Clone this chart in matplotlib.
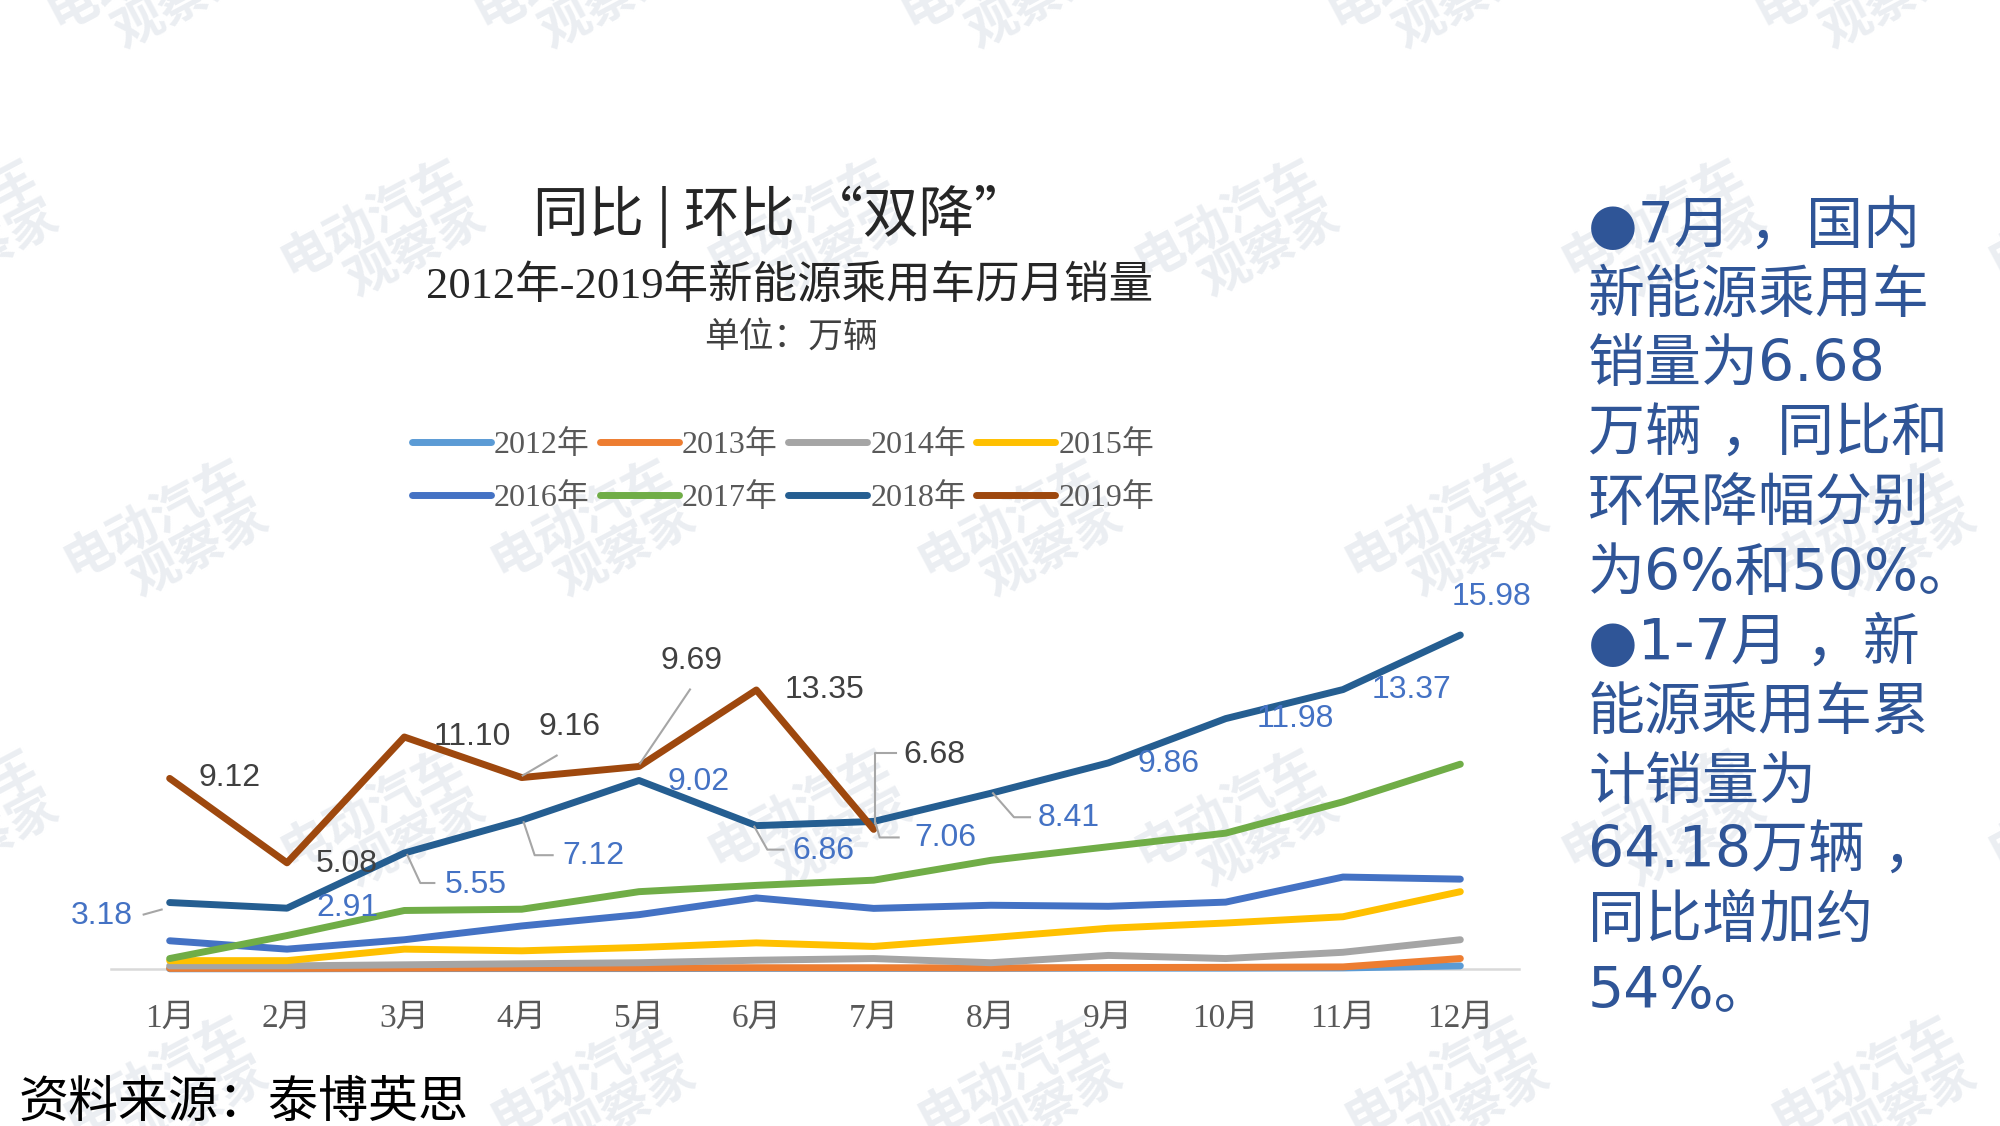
import matplotlib
matplotlib.use('Agg')
import matplotlib.pyplot as plt
import matplotlib.transforms as mtransforms
from matplotlib.lines import Line2D

plt.rcParams['font.family'] = ['Liberation Serif', 'Noto Sans CJK SC']

# ---- data (万辆) ----
months = ['1月', '2月', '3月', '4月', '5月', '6月', '7月', '8月', '9月', '10月', '11月', '12月']
years = ['2012年', '2013年', '2014年', '2015年', '2016年', '2017年', '2018年', '2019年']
colors = ['#5B9BD5', '#ED7D31', '#A5A5A5', '#FFC000', '#4472C4', '#70AD47', '#255E91', '#9E480E']

s2012 = [0.01, 0.01, 0.02, 0.02, 0.02, 0.03, 0.03, 0.03, 0.04, 0.04, 0.05, 0.15]
s2013 = [0.03, 0.03, 0.04, 0.05, 0.05, 0.06, 0.06, 0.05, 0.07, 0.08, 0.10, 0.50]
s2014 = [0.15, 0.15, 0.20, 0.25, 0.30, 0.42, 0.50, 0.30, 0.65, 0.50, 0.80, 1.40]
s2015 = [0.40, 0.40, 0.95, 0.87, 1.03, 1.25, 1.08, 1.50, 1.95, 2.20, 2.50, 3.70]
s2016 = [1.35, 0.95, 1.40, 2.06, 2.60, 3.40, 2.90, 3.05, 3.00, 3.20, 4.40, 4.30]
s2017 = [0.50, 1.60, 2.80, 2.86, 3.70, 4.00, 4.25, 5.20, 5.85, 6.50, 8.00, 9.80]
s2018 = [3.18, 2.91, 5.55, 7.12, 9.02, 6.86, 7.06, 8.41, 9.86, 11.98, 13.37, 15.98]
s2019 = [9.12, 5.08, 11.10, 9.16, 9.69, 13.35, 6.68]
series = [s2012, s2013, s2014, s2015, s2016, s2017, s2018, s2019]

# label offsets in pixels (dx, dy) and leader polylines
off2018 = [(-68, -13), (60, 0), (71, -32), (72, -36), (60, -2), (67, -25),
           (72, -17), (78, -25), (60, -1), (70, 0), (68, 0), (31, 38)]
lead2018 = {0: [(-26, -12), (-8, -7)],
            2: [(3, -2), (16, -30), (30, -30)],
            3: [(2, -2), (13, -35), (31, -35)],
            5: [(-2, -1), (11, -24), (27, -24)],
            6: [(2, -2), (6, -16), (25, -16)],
            7: [(2, 0), (23, -24), (39, -24)]}
off2019 = [(60, 0), (60, -1), (68, 0), (48, 51), (52, 105), (68, 0), (61, 74)]
lead2019 = {3: [(1, 2), (35, 22)],
            4: [(1, 3), (51, 77)],
            6: [(1, 6), (1, 76), (22, 76)]}

side_lines = ['●7月 ，国内', '新能源乘用车', '销量为6.68', '万辆 ，同比和', '环保降幅分别',
              '为6%和50%。', '●1-7月 ，新', '能源乘用车累', '计销量为', '64.18万辆 ，',
              '同比增加约', '54%。']

W, H = 2000, 1126
fig = plt.figure(figsize=(W / 100, H / 100), dpi=100)
fig.patch.set_facecolor('white')

# watermarks (behind everything)
wm_rows = [(-8, 150), (240, -44), (540, 166), (830, -44), (1097, 166)]
for wy, x0 in wm_rows:
    for k in range(6):
        wx = x0 + 427 * k
        if -150 < wx < W + 150:
            fig.text(wx / W, 1 - wy / H, '电动汽车\n观察家', rotation=28, ha='center', va='center',
                     multialignment='right', fontsize=36, fontweight='bold', color='#ebeef2',
                     family=['Noto Sans CJK SC'], linespacing=0.95, zorder=-5)

ax = fig.add_axes([111 / W, 1 - 969 / H, 1408 / W, 17 * 20.9 / H])
ax.patch.set_alpha(0)
x = list(range(12))
handles = []
for s, c, name in zip(series, colors, years):
    ln, = ax.plot(x[:len(s)], s, color=c, lw=5, solid_capstyle='round', solid_joinstyle='round',
                  clip_on=False, label=name, zorder=3)
    handles.append(ln)

ax.set_xlim(-0.5, 11.5)
ax.set_ylim(0, 17)
for sp in ['top', 'right', 'left']:
    ax.spines[sp].set_visible(False)
ax.spines['bottom'].set_color('#d9d9d9')
ax.spines['bottom'].set_linewidth(1.8)
ax.set_yticks([])
ax.set_xticks(x)
ax.set_xticklabels(months, fontsize=24, color='#595959')
ax.tick_params(axis='x', length=0, pad=25)

lab_font = ['Liberation Sans']


def leader(i, v, pts):
    px, py = ax.transData.transform((i, v))
    ax.add_line(Line2D([px + p[0] for p in pts], [py + p[1] for p in pts],
                       transform=mtransforms.IdentityTransform(), color='#a6a6a6',
                       lw=1.5, clip_on=False, zorder=4))


for i, v in enumerate(s2018):
    ax.annotate(f'{v:.2f}', xy=(i, v), xytext=off2018[i], textcoords='offset pixels',
                ha='center', va='center', fontsize=23, color='#4472C4', family=lab_font, zorder=5)
    if i in lead2018:
        leader(i, v, lead2018[i])
for i, v in enumerate(s2019):
    ax.annotate(f'{v:.2f}', xy=(i, v), xytext=off2019[i], textcoords='offset pixels',
                ha='center', va='center', fontsize=23, color='#404040', family=lab_font, zorder=5)
    if i in lead2019:
        leader(i, v, lead2019[i])

# titles
fig.text(781 / W, 1 - 217 / H, '同比 | 环比 “双降”', ha='center', va='center', fontsize=40,
         color='#262626', family=['Noto Sans CJK SC'])
fig.text(790 / W, 1 - 286 / H, '2012年-2019年新能源乘用车历月销量', ha='center', va='center',
         fontsize=32, color='#262626')
fig.text(791 / W, 1 - 338 / H, '单位：万辆', ha='center', va='center', fontsize=25, color='#404040')

order = [0, 4, 1, 5, 2, 6, 3, 7]
fig.legend([handles[k] for k in order], [years[k] for k in order], ncol=4, loc='center',
           bbox_to_anchor=(783 / W, 1 - 472 / H), frameon=False, fontsize=23,
           handlelength=2.47, handletextpad=0.1, columnspacing=0.32, labelspacing=0.72,
           labelcolor='#595959')

# side notes
for k, t in enumerate(side_lines):
    fig.text(1588 / W, 1 - (227 + 69.5 * k) / H, t, ha='left', va='center', fontsize=41,
             color='#2F5597', family=['DejaVu Sans', 'Noto Sans CJK SC'])

fig.text(19 / W, 1 - 1105 / H, '资料来源：泰博英思', ha='left', va='center', fontsize=36, color='black')

fig.savefig('out.png', dpi=100)
